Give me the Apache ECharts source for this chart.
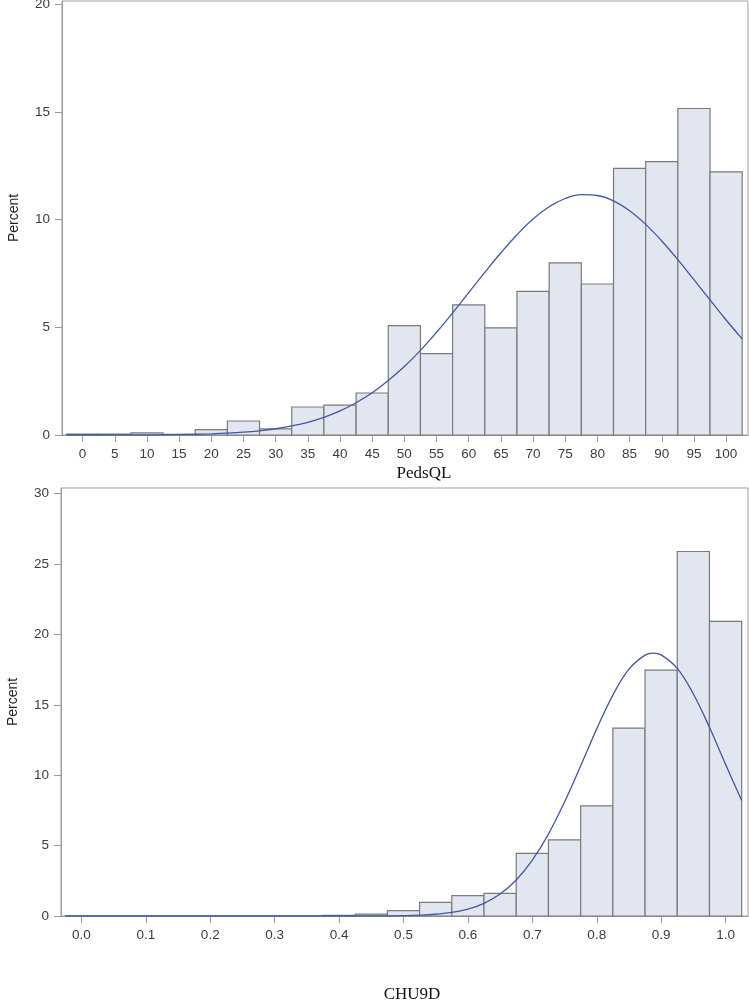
<!DOCTYPE html>
<html>
<head>
<meta charset="utf-8">
<script src="https://cdn.jsdelivr.net/npm/echarts@6/dist/echarts.min.js"></script>
<style>
  html, body { margin: 0; padding: 0; background: #fff; }
  #container { width: 749px; height: 1004px; }
</style>
</head>
<body>
<div id="container"></div>
<script>
// PedsQL histogram (bin centres, percent)
var pedsBins = [0, 5, 10, 15, 20, 25, 30, 35, 40, 45, 50, 55, 60, 65, 70, 75, 80, 85, 90, 95, 100];
var pedsPercent = [0.04, 0.04, 0.1, 0.03, 0.25, 0.65, 0.28, 1.3, 1.39, 1.95, 5.08, 3.78, 6.04, 4.97, 6.67, 7.99, 7.01, 12.38, 12.69, 15.16, 12.22];
// fitted normal curve
var pedsCurveX = [-2.5, 0, 2.5, 5, 7.5, 10, 12.5, 15, 17.5, 20, 22.5, 25, 27.5, 30, 32.5, 35, 37.5, 40, 42.5, 45,
  47.5, 50, 52.5, 55, 57.5, 60, 62.5, 65, 67.5, 70, 72.5, 75, 77.5, 80, 82.5, 85, 87.5, 90, 92.5, 95, 97.5, 100, 102.5];
var pedsCurveY = [0, 0.001, 0.001, 0.003, 0.004, 0.008, 0.013, 0.021, 0.034, 0.054, 0.085, 0.13, 0.196, 0.29, 0.42, 0.59, 0.82, 1.12, 1.5, 1.96,
  2.53, 3.18, 3.93, 4.77, 5.67, 6.61, 7.55, 8.46, 9.3, 10.03, 10.6, 10.98, 11.16, 11.12, 10.87, 10.41, 9.78, 9.01, 8.14, 7.21, 6.27, 5.34, 4.46];
var pedsTicks = [0, 5, 10, 15, 20, 25, 30, 35, 40, 45, 50, 55, 60, 65, 70, 75, 80, 85, 90, 95, 100];
var pedsYTicks = [0, 5, 10, 15, 20];

// CHU9D histogram
var chuBins = [0, 0.05, 0.1, 0.15, 0.2, 0.25, 0.3, 0.35, 0.4, 0.45, 0.5, 0.55, 0.6, 0.65, 0.7, 0.75, 0.8, 0.85, 0.9, 0.95, 1.0];
var chuPercent = [0, 0, 0, 0, 0, 0, 0, 0, 0.05, 0.14, 0.38, 0.97, 1.45, 1.61, 4.45, 5.4, 7.82, 13.34, 17.46, 25.89, 20.92];
var chuCurveX = [-0.025, 0, 0.025, 0.05, 0.075, 0.1, 0.125, 0.15, 0.175, 0.2, 0.225, 0.25, 0.275, 0.3, 0.325, 0.35, 0.375, 0.4, 0.425, 0.45,
  0.475, 0.5, 0.525, 0.55, 0.575, 0.6, 0.625, 0.65, 0.675, 0.7, 0.725, 0.75, 0.775, 0.8, 0.825, 0.85, 0.875, 0.888, 0.9, 0.925, 0.95, 0.975, 1.0, 1.025];
var chuCurveY = [0, 0, 0, 0, 0, 0, 0, 0, 0, 0, 0, 0, 0, 0, 0, 0, 0, 0.0005, 0.0015, 0.004,
  0.011, 0.025, 0.058, 0.125, 0.25, 0.49, 0.9, 1.56, 2.56, 3.97, 5.82, 8.1, 10.66, 13.29, 15.69, 17.53, 18.53, 18.67, 18.55, 17.59, 15.77, 13.4, 10.77, 8.2];
var chuTicks = [0, 0.1, 0.2, 0.3, 0.4, 0.5, 0.6, 0.7, 0.8, 0.9, 1.0];
var chuYTicks = [0, 5, 10, 15, 20, 25, 30];

var chart = echarts.init(document.getElementById('container'));

var labelColor = '#3c3c3c';
var axisGray = '#9a9a9a';

function zip(xs, ys) {
  var out = [];
  for (var i = 0; i < xs.length; i++) out.push([xs[i], ys[i]]);
  return out;
}

function histRender(binWidth) {
  return function (params, api) {
    var x = api.value(0);
    var v = api.value(1);
    var p0 = api.coord([x - binWidth / 2, 0]);
    var p1 = api.coord([x + binWidth / 2, v]);
    return {
      type: 'rect',
      shape: { x: p0[0], y: p1[1], width: p1[0] - p0[0], height: p0[1] - p1[1] },
      style: { fill: '#e1e6f0', stroke: '#7a7a7a', lineWidth: 1.2 }
    };
  };
}

function xAxisCfg(idx, min, max, ticks, name, gap, pad, fmt) {
  return {
    type: 'value', gridIndex: idx, min: min, max: max,
    name: name, nameLocation: 'middle', nameGap: gap,
    nameTextStyle: { fontFamily: 'Liberation Serif', fontSize: 17, color: '#111', padding: [0, 0, 0, pad] },
    axisLine: { show: true, onZero: false, lineStyle: { color: axisGray, width: 1 } },
    axisTick: { show: true, length: 7, customValues: ticks, lineStyle: { color: axisGray } },
    axisLabel: { customValues: ticks, margin: 12, color: labelColor, fontFamily: 'Liberation Sans', fontSize: 13.5, formatter: fmt },
    splitLine: { show: false }
  };
}

function yAxisCfg(idx, max, ticks) {
  return {
    type: 'value', gridIndex: idx, min: 0, max: max,
    name: 'Percent', nameLocation: 'middle', nameGap: 41, nameRotate: 90,
    nameTextStyle: { fontFamily: 'Liberation Sans', fontSize: 14, color: '#222' },
    axisLine: { show: true, onZero: false, lineStyle: { color: axisGray } },
    axisTick: { show: true, length: 7, customValues: ticks, lineStyle: { color: axisGray } },
    axisLabel: { customValues: ticks, margin: 12, color: labelColor, fontFamily: 'Liberation Sans', fontSize: 13.5 },
    splitLine: { show: false }
  };
}

var option = {
  animation: false,
  backgroundColor: '#fff',
  grid: [
    { left: 62, top: 1, width: 686, height: 434, outerBoundsMode: 'none', containLabel: false,
      show: true, borderColor: '#a0a0a0', borderWidth: 1, backgroundColor: 'transparent' },
    { left: 61, top: 488, width: 687, height: 428, outerBoundsMode: 'none', containLabel: false,
      show: true, borderColor: '#a0a0a0', borderWidth: 1, backgroundColor: 'transparent' }
  ],
  xAxis: [
    xAxisCfg(0, -3.2, 103.4, pedsTicks, 'PedsQL', 30, 38, function (v) { return String(v); }),
    xAxisCfg(1, -0.0317, 1.0348, chuTicks, 'CHU9D', 70, 15, function (v) { return v.toFixed(1); })
  ],
  yAxis: [
    yAxisCfg(0, 20.15, pedsYTicks),
    yAxisCfg(1, 30.4, chuYTicks)
  ],
  series: [
    {
      type: 'custom', xAxisIndex: 0, yAxisIndex: 0, z: 2,
      renderItem: histRender(5),
      data: zip(pedsBins, pedsPercent)
    },
    {
      type: 'line', xAxisIndex: 0, yAxisIndex: 0, z: 3,
      smooth: 0.4, smoothConstraint: false, showSymbol: false,
      lineStyle: { color: '#4455a6', width: 1.3 },
      data: zip(pedsCurveX, pedsCurveY)
    },
    {
      type: 'custom', xAxisIndex: 1, yAxisIndex: 1, z: 2,
      renderItem: histRender(0.05),
      data: zip(chuBins, chuPercent)
    },
    {
      type: 'line', xAxisIndex: 1, yAxisIndex: 1, z: 3,
      smooth: 0.4, smoothConstraint: false, showSymbol: false,
      lineStyle: { color: '#4455a6', width: 1.3 },
      data: zip(chuCurveX, chuCurveY)
    }
  ]
};

chart.setOption(option);
</script>
</body>
</html>
